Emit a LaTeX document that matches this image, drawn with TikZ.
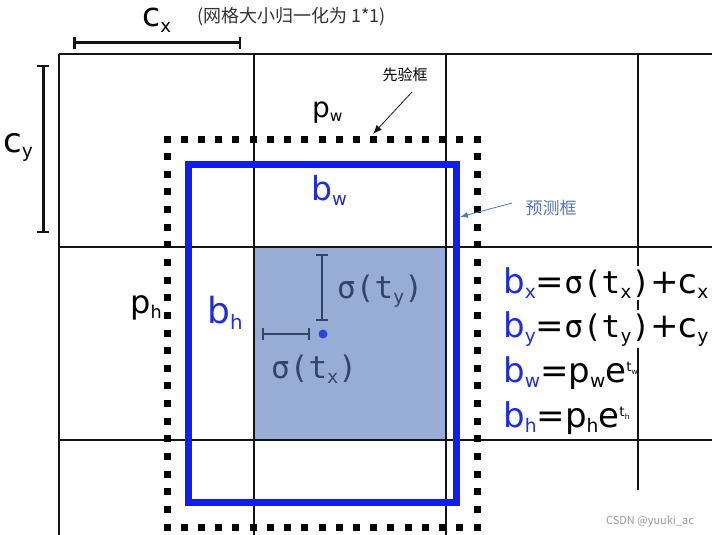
\documentclass[tikz,border=0pt]{standalone}
\usepackage{fontspec}
\setmainfont{DejaVu Sans}
\setmonofont{DejaVu Sans Mono}
\newfontfamily\cjk{Noto Sans CJK SC}
\usetikzlibrary{arrows.meta}
\definecolor{boxblue}{RGB}{15,30,235}
\definecolor{lblblue}{RGB}{30,45,225}
\definecolor{cellfill}{RGB}{152,173,214}
\definecolor{celledge}{RGB}{90,110,160}
\definecolor{sigcol}{RGB}{52,68,105}
\definecolor{predcol}{RGB}{85,120,180}
\definecolor{gridcol}{RGB}{20,20,20}
\definecolor{dotblue}{RGB}{40,70,220}
\newcommand\myfs[1]{\fontsize{#1}{#1}\selectfont}
\newcommand\lowx[2][0.55]{\raisebox{-0.17em}{\scalebox{#1}{#2}}}
\newcommand\upx[1]{\raisebox{0.3em}{\scalebox{0.4}{#1}}}
\newcommand\sigt[1]{{\ttfamily\myfs{31}σ(t\lowx[0.6]{#1})}}
\tikzset{
  gridline/.style={draw=gridcol, line width=1.3pt},
  dimbar/.style={draw=gridcol, line width=3pt, {Bar[width=12pt,line width=2.5pt]}-{Bar[width=12pt,line width=2.5pt]}},
  sigbar/.style={draw=sigcol, line width=2.6pt, {Bar[width=12pt,line width=2.4pt]}-{Bar[width=12pt,line width=2.4pt]}},
  lbl/.style={inner sep=0pt, anchor=base west, text=black},
  formula/.style={inner sep=1pt, anchor=base west, text=black, font=\myfs{34}},
  note/.style={inner sep=0pt, font=\cjk\myfs{15}},
  sq/.style={fill=black}
}
\begin{document}
\begin{tikzpicture}[x=1pt,y=-1pt]
\useasboundingbox (0,0) rectangle (712,535);
% shaded cell
\fill[cellfill] (254,247) rectangle (446,440);
\draw[celledge, line width=1.2pt] (254,247) rectangle (446,440);
% grid
\draw[gridline] (59,54) -- (712,54);
\draw[gridline] (59,247) -- (712,247);
\draw[gridline] (59,440) -- (712,440);
\draw[gridline] (59,54) -- (59,535);
\draw[gridline] (254,54) -- (254,535);
\draw[gridline] (446,54) -- (446,535);
\draw[gridline] (638,54) -- (638,490);
% predicted box
\draw[boxblue, line width=7pt] (188,164) rectangle (456,502);
% prior box (dotted)
\foreach \i in {0,...,18} {
  \fill[sq] ({167+\i*310/18-3.5},135.5) rectangle ++(7,7);
  \fill[sq] ({167+\i*310/18-3.5},523.5) rectangle ++(7,7);
}
\foreach \i in {1,...,21} {
  \fill[sq] (163.5,{139+\i*388/22-3.5}) rectangle ++(7,7);
  \fill[sq] (473.5,{139+\i*388/22-3.5}) rectangle ++(7,7);
}
% dimension bars
\coordinate (cxL) at (73,43);
\coordinate (cxR) at (241,43);
\draw[dimbar] (cxL) -- (cxR);
\coordinate (cyT) at (43,65);
\coordinate (cyB) at (43,233);
\draw[dimbar] (cyT) -- (cyB);
\node[lbl, font=\myfs{33}] (cx) at (142,27) {c\lowx{x}};
\node[lbl, font=\myfs{34}] (cy) at (3,152) {c\lowx{y}};
\node[note, anchor=west, font=\cjk\myfs{18}, text=black!80] (gridnote) at (197,17) {(网格大小归一化为 1*1)};
% sigma bars
\coordinate (syT) at (322,254);
\coordinate (syB) at (322,321);
\draw[sigbar] (syT) -- (syB);
\coordinate (sxL) at (262,334);
\coordinate (sxR) at (310,334);
\draw[sigbar] (sxL) -- (sxR);
\fill[dotblue] (323,334) circle (4.5);
\node[lbl, text=sigcol] (sigy) at (337,298) {\sigt{y}};
\node[lbl, text=sigcol] (sigx) at (271,378) {\sigt{x}};
% box labels
\node[lbl, font=\myfs{28}] (pw) at (312,117) {p\lowx{w}};
\node[lbl, font=\myfs{33}, text=lblblue] (bw) at (311,200) {b\lowx{w}};
\node[lbl, font=\myfs{32}] (ph) at (130,313) {p\lowx{h}};
\node[lbl, font=\myfs{36}, text=lblblue] (bh) at (207,323) {b\lowx{h}};
% annotations
\node[note, text=black] (prior) at (405,75) {先验框};
\coordinate (priorTail) at (412,92);
\coordinate (priorTip) at (373,134);
\draw[gridcol, line width=0.8pt, -{Latex[length=9pt,width=7pt]}] (priorTail) -- (priorTip);
\node[note, font=\cjk\myfs{17}, text=predcol] (pred) at (551,208) {预测框};
\coordinate (predTail) at (512,203);
\coordinate (predTip) at (460,217);
\draw[predcol, line width=0.8pt, -{Latex[length=8pt,width=6pt]}] (predTail) -- (predTip);
% formulas
\node[formula, fill=white] (f1) at (502,293) {{\color{lblblue}b\lowx{x}}=\sigt{x}+c\lowx{x}};
\node[formula, fill=white] (f2) at (502,337) {{\color{lblblue}b\lowx{y}}=\sigt{y}+c\lowx{y}};
\node[formula] (f3) at (502,382) {{\color{lblblue}b\lowx{w}}=p\lowx{w}e\upx{t\lowx{w}}};
\node[formula] (f4) at (502,427) {{\color{lblblue}b\lowx{h}}=p\lowx{h}e\upx{t\lowx{h}}};
% watermark
\node[inner sep=0pt, font=\cjk\myfs{11}, text=black!40] (wm) at (650,521) {CSDN @yuuki\_ac};
\end{tikzpicture}
\end{document}
